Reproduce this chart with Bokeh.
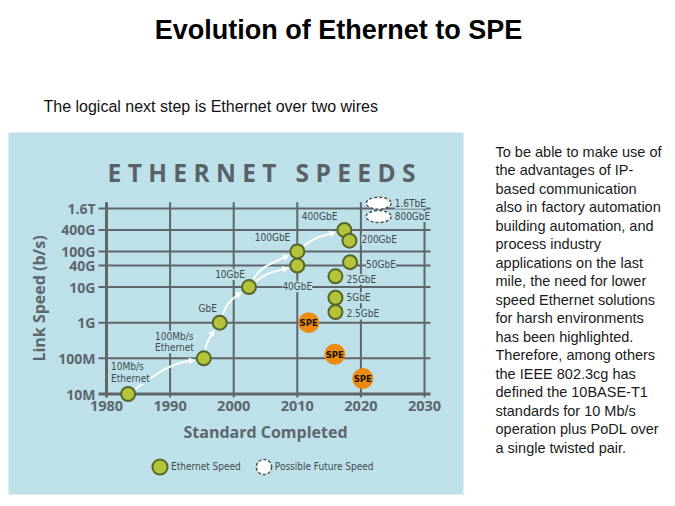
import math
from bokeh.plotting import figure
from bokeh.models import (Range1d, FixedTicker, LabelSet, Label, ColumnDataSource,
                          Legend, LegendItem, BoxAnnotation)
from bokeh.embed import file_html
from bokeh.resources import INLINE
from bokeh.core.properties import value

# ------------------------------------------------------------------ data
page_title = "Evolution of Ethernet to SPE"
subtitle = "The logical next step is Ethernet over two wires"
chart_title = "ETHERNET SPEEDS"
x_title = "Standard Completed"
y_title = "Link Speed (b/s)"
paragraph = [
    "To be able to make use of",
    "the advantages of IP-",
    "based communication",
    "also in factory automation",
    "building automation, and",
    "process industry",
    "applications on the last",
    "mile, the need for lower",
    "speed Ethernet solutions",
    "for harsh environments",
    "has been highlighted.",
    "Therefore, among others",
    "the IEEE  802.3cg has",
    "defined the 10BASE-T1",
    "standards for 10 Mb/s",
    "operation plus PoDL over",
    "a single twisted pair.",
]

year_ticks = [1980, 1990, 2000, 2010, 2020, 2030]
speed_ticks = [1e7, 1e8, 1e9, 1e10, 4e10, 1e11, 4e11, 1.6e12]
speed_tick_labels = ["10M", "100M", "1G", "10G", "40G", "100G", "400G", "1.6T"]

eth_labels = ["10Mb/s\nEthernet", "100Mb/s\nEthernet", "GbE", "10GbE", "40GbE",
              "100GbE", "400GbE", "200GbE", "50GbE", "25GbE", "5GbE", "2.5GbE"]
eth_years = [1983.4, 1995.3, 1997.8, 2002.4, 2010.0, 2010.0,
             2017.4, 2018.2, 2018.3, 2016.0, 2016.0, 2016.0]
eth_speeds = [1e7, 1e8, 1e9, 1e10, 4e10, 1e11, 4e11, 2e11, 5e10, 2e10, 5e9, 2e9]

spe_labels = ["SPE", "SPE", "SPE"]
spe_years = [2011.8, 2015.9, 2020.3]
spe_speeds = [1e9, 1.3e8, 2.7e7]

future_labels = ["1.6TbE", "800GbE"]
future_years = [2022.8, 2022.8]
future_speeds = [2.25e12, 9.5e11]

legend_labels = ["Ethernet Speed", "Possible Future Speed"]

# arrows between Ethernet generations (index pairs into eth_*)
arrow_links = [(0, 1), (1, 2), (2, 3), (3, 5), (3, 4), (5, 6)]

# ------------------------------------------------------------------ styles
PANEL = "#bee0e8"
GRID = "#5f656a"
TICKC = "#5c666e"
GREEN = "#b3c43a"
GREEN_LINE = "#56652a"
ORANGE = "#ec8b12"
LABC = "#3f4a51"
DASHC = "#4d5358"
NARROW = "Liberation Sans Narrow, DejaVu Sans Condensed, Roboto Condensed, sans-serif"
ARIAL = "Liberation Sans"

W, H = 670, 500
PXY = 6.36            # pixels per year
PDEC = 35.65          # pixels per decade
X0 = 1980 - 106 / PXY
X1 = X0 + W / PXY
L1 = 7 + 393.5 / PDEC
L0 = L1 - H / PDEC
grid_left, grid_right = 1980 - 8 / PXY, 2030 + 6 / PXY
grid_top, grid_bottom = 2.4e12, 8e6


def to_px(yr, sp):
    return (yr - X0) * PXY, (L1 - math.log10(sp)) * PDEC


def to_data(px, py):
    return X0 + px / PXY, 10 ** (L1 - py / PDEC)


def screen_label(x, y, text, **kw):
    return Label(x=x, y=H - y, x_units="screen", y_units="screen", text=text, **kw)


p = figure(width=W, height=H, x_range=Range1d(X0, X1),
           y_range=Range1d(10 ** L0, 10 ** L1), y_axis_type="log",
           output_backend="svg", toolbar_location=None, min_border=0)
p.background_fill_color = "white"
p.border_fill_color = "white"
p.outline_line_color = None
p.xgrid.visible = False
p.ygrid.visible = False

# blue chart panel
p.add_layout(BoxAnnotation(left=8, right=463, top=H - 132, bottom=H - 494,
                           left_units="screen", right_units="screen",
                           top_units="screen", bottom_units="screen",
                           fill_color=PANEL, fill_alpha=1.0, line_color=None,
                           level="underlay"))

# page texts
p.add_layout(screen_label(338, 29, page_title, text_align="center",
                          text_baseline="middle", text_font=ARIAL,
                          text_font_style="bold", text_font_size="27px",
                          text_color="black"))
p.add_layout(screen_label(43, 106, subtitle, text_align="left",
                          text_baseline="middle", text_font=ARIAL,
                          text_font_size="16px", text_color="#111111"))
for i, line in enumerate(paragraph):
    p.add_layout(screen_label(495, 151 + 18.5 * i, line, text_align="left",
                              text_baseline="middle", text_font=ARIAL,
                              text_font_size="14.5px", text_color="#1a1a1a"))
spaced_title = "\u00a0\u00a0\u00a0".join(" ".join(w) for w in chart_title.split())
p.add_layout(screen_label(261, 172, spaced_title,
                          text_align="center", text_baseline="middle",
                          text_font="Open Sans", text_font_style="bold",
                          text_font_size="24.5px", text_color="#596168"))

# axes (real axes, pinned at 1980 / 10M)
p.xaxis.fixed_location = speed_ticks[0]
p.yaxis.fixed_location = year_ticks[0]
p.xaxis.bounds = (year_ticks[0], year_ticks[-1])
p.yaxis.bounds = (speed_ticks[0], grid_top)
p.xaxis.ticker = FixedTicker(ticks=year_ticks)
p.yaxis.ticker = FixedTicker(ticks=speed_ticks)
p.yaxis.major_label_overrides = {t: l for t, l in zip(speed_ticks, speed_tick_labels)}
for ax in (p.xaxis, p.yaxis):
    ax.axis_line_color = None
    ax.major_tick_line_color = None
    ax.minor_tick_line_color = None
    ax.major_tick_in = 0
    ax.major_tick_out = 0
    ax.minor_tick_in = 0
    ax.minor_tick_out = 0
    ax.major_label_text_font = "Open Sans"
    ax.major_label_text_font_style = "bold"
    ax.major_label_text_color = TICKC
    ax.axis_label_text_font = "Open Sans"
    ax.axis_label_text_font_style = "bold"
    ax.axis_label_text_color = TICKC
    ax.axis_label_text_font_size = "16px"
p.xaxis.major_label_text_font_size = "14.5px"
p.yaxis.major_label_text_font_size = "14px"
p.xaxis.major_label_standoff = 7
p.yaxis.major_label_standoff = 11
p.xaxis.axis_label = x_title
p.yaxis.axis_label = y_title
p.xaxis.axis_label_standoff = 6
p.yaxis.axis_label_standoff = 5

# grid lines drawn from the tick values
p.segment(x0=[grid_left] * len(speed_ticks), y0=speed_ticks,
          x1=[grid_right] * len(speed_ticks), y1=speed_ticks,
          line_color=GRID, line_width=[3] + [2] * (len(speed_ticks) - 1))
p.segment(x0=year_ticks, y0=[grid_bottom] * len(year_ticks),
          x1=year_ticks, y1=[grid_top] * len(year_ticks),
          line_color=GRID, line_width=[3] + [2] * (len(year_ticks) - 1))

# arrows
start_deg = [35, 80, 70, 60, 40, 40]
end_deg = [10, 55, 35, 25, 15, 15]
ax0, ay0, ax1, ay1, acx0, acy0, acx1, acy1, hx, hy, ha = ([] for _ in range(11))
for (i, j), a0, a1 in zip(arrow_links, start_deg, end_deg):
    sx, sy = to_px(eth_years[i], eth_speeds[i])
    tx, ty = to_px(eth_years[j], eth_speeds[j])
    r0, r1 = math.radians(a0), math.radians(a1)
    p0 = (sx + 9 * math.cos(r0), sy - 9 * math.sin(r0))
    p3 = (tx - 13 * math.cos(r1), ty + 13 * math.sin(r1))
    L = math.hypot(p3[0] - p0[0], p3[1] - p0[1])
    c0 = (p0[0] + 0.4 * L * math.cos(r0), p0[1] - 0.4 * L * math.sin(r0))
    c1 = (p3[0] - 0.4 * L * math.cos(r1), p3[1] + 0.4 * L * math.sin(r1))
    for (px_, py_), xs, ys in ((p0, ax0, ay0), (p3, ax1, ay1), (c0, acx0, acy0), (c1, acx1, acy1)):
        dx, dy = to_data(px_, py_)
        xs.append(dx)
        ys.append(dy)
    hx.append(ax1[-1])
    hy.append(ay1[-1])
    ha.append(r1 - math.pi / 2)
p.bezier(x0=ax0, y0=ay0, x1=ax1, y1=ay1, cx0=acx0, cy0=acy0, cx1=acx1, cy1=acy1,
         line_color="white", line_width=2)
p.scatter(x=hx, y=hy, angle=ha, marker="triangle", size=7, fill_color="white",
          line_color=None)

# point labels (panel-coloured background hides the grid behind them)
lab_dx = [-17, -10, -12, -4, 0, -7, -7, 12, 16, 11, 11, 11]
lab_dy = [10, 5, 14, 12.5, -21, 14, 13.5, 1, -2, -3, 0, -2]
lab_align = ["left", "right", "center", "right", "center", "right", "right",
             "left", "left", "left", "left", "left"]
lab_base = ["bottom", "bottom"] + ["middle"] * 10
src_lab = ColumnDataSource(dict(x=eth_years, y=eth_speeds, t=eth_labels,
                                dx=lab_dx, dy=lab_dy, al=lab_align, bl=lab_base))
p.add_layout(LabelSet(x="x", y="y", text="t", source=src_lab, x_offset="dx",
                      y_offset="dy", text_align="al", text_baseline="bl",
                      text_font=value(NARROW), text_font_size="10px",
                      text_color=LABC, text_line_height=1.05,
                      background_fill_color=PANEL))
src_fut = ColumnDataSource(dict(x=future_years, y=future_speeds, t=future_labels))
p.add_layout(LabelSet(x="x", y="y", text="t", source=src_fut, x_offset=16,
                      y_offset=0, text_align="left", text_baseline="middle",
                      text_font=value(NARROW), text_font_size="10px",
                      text_color=LABC, background_fill_color=PANEL))

# points: future speeds (a round marker sits under each dashed oval)
fut_leg = p.ellipse(x=future_years, y=future_speeds, width=10, height=10,
                    width_units="screen", height_units="screen", fill_color="white",
                    line_color=DASHC, line_dash="3 2", line_width=1.5)
p.ellipse(x=future_years, y=future_speeds, width=25, height=12,
          width_units="screen", height_units="screen", fill_color="white",
          line_color=DASHC, line_dash="3 2", line_width=1.5)
eth_r = p.ellipse(x=eth_years, y=eth_speeds, width=14, height=14,
                  width_units="screen", height_units="screen",
                  fill_color=GREEN, line_color=GREEN_LINE, line_width=2)
p.scatter(x=spe_years, y=spe_speeds, size=21, marker="circle",
          fill_color=ORANGE, line_color=None)
p.text(x=spe_years, y=spe_speeds, text=spe_labels, text_align="center",
       text_baseline="middle", text_font=value(NARROW), text_font_style="bold",
       text_font_size="9.5px", text_color="#1a1208")

legend = Legend(items=[LegendItem(label=legend_labels[0], renderers=[eth_r]),
                       LegendItem(label=legend_labels[1], renderers=[fut_leg])],
                orientation="horizontal", location=(150, H - 476),
                glyph_width=19, glyph_height=19, label_standoff=2,
                spacing=13, padding=0, margin=0,
                background_fill_alpha=0, border_line_color=None,
                label_text_font=NARROW, label_text_font_size="10px",
                label_text_color=LABC)
p.add_layout(legend)

open("out.html", "w").write(file_html(p, INLINE))
